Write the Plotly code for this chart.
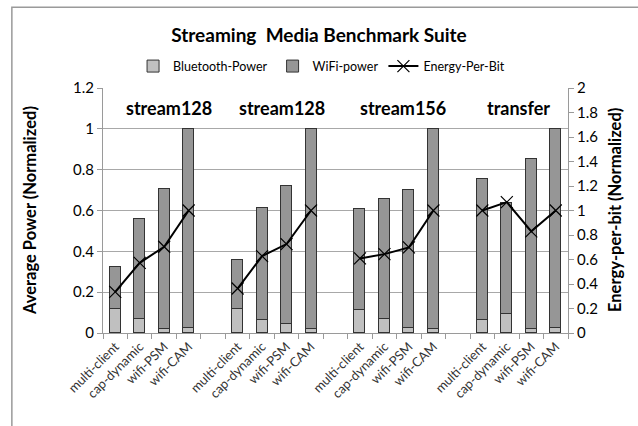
import plotly.graph_objects as go

# benchmark groups and the four configurations in each
groups = ['stream128', 'stream128', 'stream156', 'transfer']
configs = ['multi-client', 'cap-dynamic', 'wifi-PSM', 'wifi-CAM']

# bluetooth share of the power bar (left axis)
bt_power = [
    [0.116, 0.067, 0.020, 0.025],
    [0.120, 0.064, 0.044, 0.020],
    [0.112, 0.067, 0.025, 0.020],
    [0.064, 0.093, 0.020, 0.025],
]
# total bar height (bluetooth + wifi), left axis
total_power = [
    [0.324, 0.557, 0.705, 1.0],
    [0.360, 0.611, 0.722, 1.0],
    [0.605, 0.656, 0.698, 1.0],
    [0.752, 0.636, 0.850, 1.0],
]
# energy per bit, right axis
energy_per_bit = [
    [0.336, 0.573, 0.704, 1.0],
    [0.363, 0.628, 0.726, 1.0],
    [0.609, 0.644, 0.699, 1.0],
    [1.000, 1.068, 0.830, 1.0],
]

# flatten with an empty slot between groups
xs, labels, bt, wifi, epb = [], [], [], [], []
pos = 0
for g in range(len(groups)):
    for c in range(len(configs)):
        xs.append(pos)
        labels.append(configs[c])
        bt.append(bt_power[g][c])
        wifi.append(total_power[g][c] - bt_power[g][c])
        epb.append(energy_per_bit[g][c])
        pos += 1
    if g < len(groups) - 1:
        # gap slot breaks the line
        xs.append(pos)
        labels.append('')
        bt.append(None)
        wifi.append(None)
        epb.append(None)
        pos += 1

font_main = 'Lato, Open Sans, sans-serif'
bar_line = dict(color='#333333', width=1)

fig = go.Figure()
fig.add_trace(go.Bar(x=xs, y=bt, name='Bluetooth-Power', width=0.45,
                     marker=dict(color='#c0c0c0', line=bar_line)))
fig.add_trace(go.Bar(x=xs, y=wifi, name='WiFi-power', width=0.45,
                     marker=dict(color='#969696', line=bar_line)))
fig.add_trace(go.Scatter(x=xs, y=epb, name='Energy-Per-Bit', yaxis='y2',
                         mode='lines+markers', connectgaps=False,
                         line=dict(color='black', width=2),
                         marker=dict(symbol='x-thin', size=12,
                                     line=dict(color='black', width=1.2))))

# group labels above each cluster
label_x = [2.2, 6.8, 11.76, 16.46]
for name, lx in zip(groups, label_x):
    fig.add_annotation(x=lx, y=1.1, xref='x', yref='y', text='<b>%s</b>' % name,
                       showarrow=False, font=dict(size=18, color='black',
                                                  family=font_main))

# axis titles
fig.add_annotation(x=-0.158, y=0.5, xref='paper', yref='paper', textangle=-90,
                   xanchor='center', yanchor='middle',
                   text='<b>Average Power (Normalized)</b>', showarrow=False,
                   font=dict(size=16.5, color='black', family=font_main))
fig.add_annotation(x=1.1, y=0.5, xref='paper', yref='paper', textangle=-90,
                   xanchor='center', yanchor='middle',
                   text='<b>Energy-per-bit (Normalized)</b>', showarrow=False,
                   font=dict(size=16.5, color='black', family=font_main))

# outer chart frame
fig.add_shape(type='rect', xref='paper', yref='paper',
              x0=-0.196, x1=1.2, y0=-0.5, y1=1.33,
              line=dict(color='#9a9a9a', width=1.5))

fig.update_layout(
    width=638, height=426,
    barmode='stack',
    bargap=0,
    plot_bgcolor='white',
    paper_bgcolor='white',
    font=dict(family=font_main, color='black', size=12),
    title=dict(text='<b>Streaming  Media Benchmark Suite</b>', x=0.5,
               xanchor='center', y=0.918, yanchor='middle',
               font=dict(size=19, color='black')),
    margin=dict(l=103, r=70, t=88, b=93),
    showlegend=True,
    legend=dict(orientation='h', x=0.47, xanchor='center', y=1.088,
                yanchor='middle', font=dict(size=12.5), itemwidth=30,
                traceorder='normal', bgcolor='rgba(0,0,0,0)'),
    xaxis=dict(range=[-0.5, len(xs) - 0.5], tickmode='array', tickvals=xs,
               ticktext=labels, tickangle=-45, ticks='', showgrid=False,
               showline=True, linecolor='#9a9a9a', linewidth=1,
               tickfont=dict(size=13, color='#333333'),
               minor=dict(tickmode='linear', tick0=-0.5, dtick=1,
                          ticks='outside', ticklen=5, tickcolor='#9a9a9a')),
    yaxis=dict(range=[0, 1.2], dtick=0.2, showgrid=True, gridcolor='#a8a8a8',
               showline=True, linecolor='#9a9a9a', ticks='outside', ticklen=5,
               tickcolor='#9a9a9a', tickfont=dict(size=15, color='black'),
               zeroline=False),
    yaxis2=dict(range=[0, 2], dtick=0.2, overlaying='y', side='right',
                showgrid=False, showline=True, linecolor='#9a9a9a',
                ticks='outside', ticklen=5, tickcolor='#9a9a9a',
                tickfont=dict(size=15, color='black'), zeroline=False),
)

# drop the default page margin so the figure sits at the window origin
fig.write_html('out.html', config={'displayModeBar': False},
               post_script="document.body.style.margin='0';")
